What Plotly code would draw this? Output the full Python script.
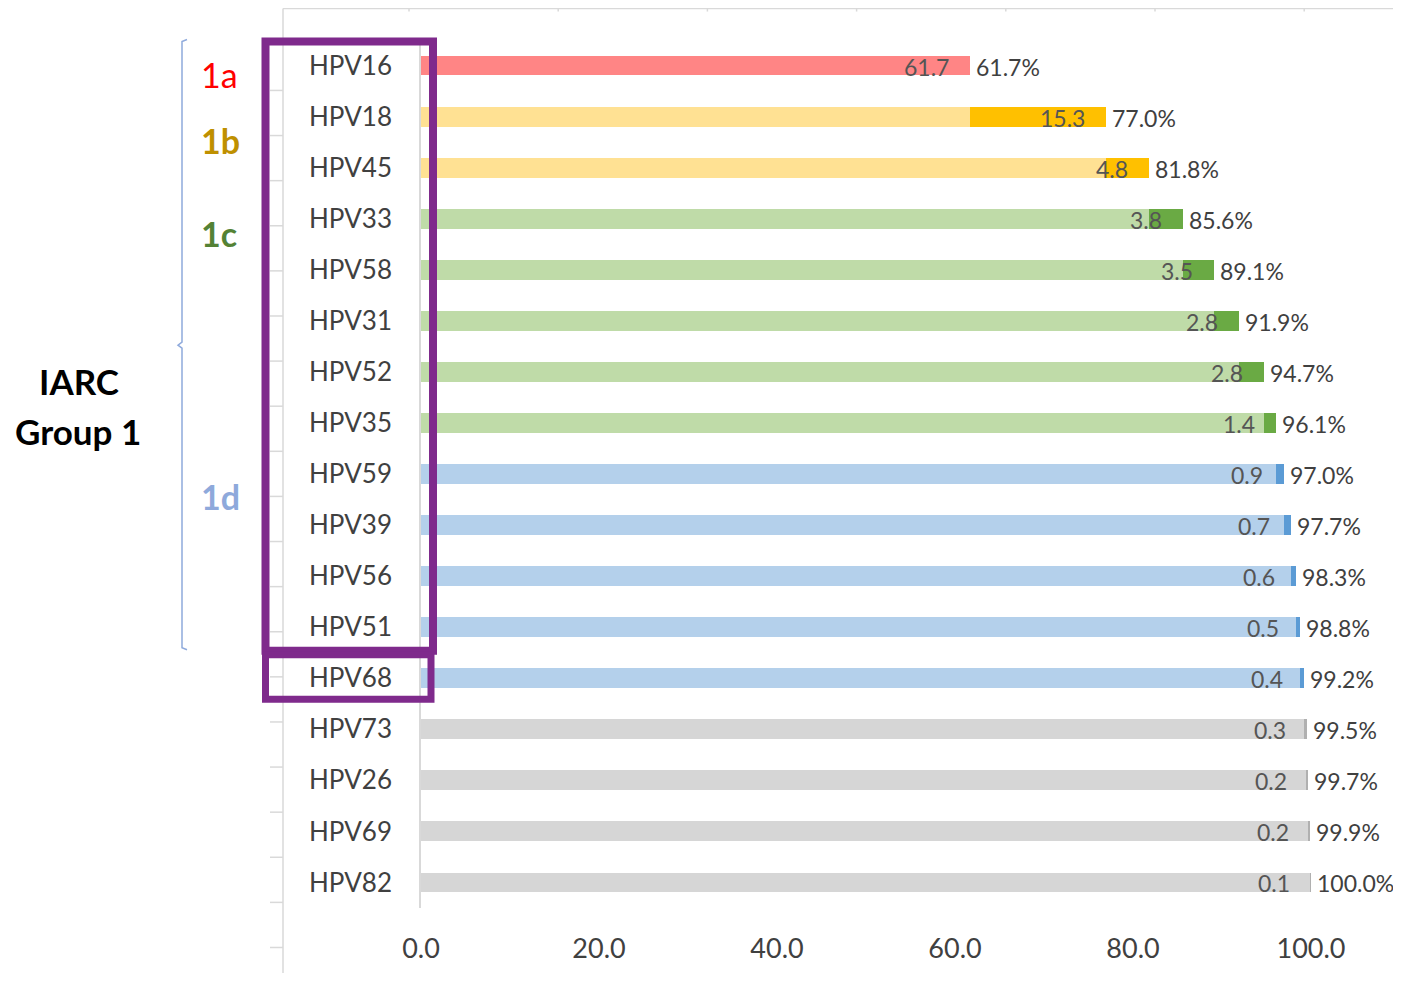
import plotly.graph_objects as go

# ---------------- data ----------------
categories = ["HPV16", "HPV18", "HPV45", "HPV33", "HPV58", "HPV31", "HPV52", "HPV35",
              "HPV59", "HPV39", "HPV56", "HPV51", "HPV68", "HPV73", "HPV26", "HPV69", "HPV82"]
increments = [61.7, 15.3, 4.8, 3.8, 3.5, 2.8, 2.8, 1.4, 0.9, 0.7, 0.6, 0.5, 0.4, 0.3, 0.2, 0.2, 0.1]
cumulative = [61.7, 77.0, 81.8, 85.6, 89.1, 91.9, 94.7, 96.1, 97.0, 97.7, 98.3, 98.8, 99.2,
              99.5, 99.7, 99.9, 100.0]
groups = ["1a", "1b", "1b", "1c", "1c", "1c", "1c", "1c", "1d", "1d", "1d", "1d", "1d",
          "other", "other", "other", "other"]
x_ticks = [0, 20, 40, 60, 80, 100]

# ---------------- styles ----------------
base_colors = {"1a": "#FF8585", "1b": "#FFE193", "1c": "#BFDBA8", "1d": "#B4D0EB", "other": "#D6D6D6"}
inc_colors = {"1a": "#FF8585", "1b": "#FFC000", "1c": "#6AAA44", "1d": "#5B9BD5", "other": "#B0B0B0"}
FONT = "Lato"
TXT = "#404040"

base_vals = [round(c - i, 1) for c, i in zip(cumulative, increments)]

fig = go.Figure()
fig.add_trace(go.Bar(
    y=categories, x=base_vals, orientation="h",
    marker=dict(color=[base_colors[g] for g in groups], line=dict(width=0)),
    showlegend=False, hoverinfo="skip"))
fig.add_trace(go.Bar(
    y=categories, x=increments, orientation="h",
    marker=dict(color=[inc_colors[g] for g in groups], line=dict(width=0)),
    showlegend=False, hoverinfo="skip"))

# data labels
for cat, inc, cum in zip(categories, increments, cumulative):
    fig.add_annotation(x=cum, y=cat, xref="x", yref="y", text=f"{inc:.1f}",
                       showarrow=False, xanchor="right", xshift=-19, yshift=-1,
                       font=dict(family=FONT, size=23, color="#555555"))
    fig.add_annotation(x=cum, y=cat, xref="x", yref="y", text=f"{cum:.1f}%",
                       showarrow=False, xanchor="left", xshift=4, yshift=-1,
                       font=dict(family=FONT, size=23, color=TXT))

# ---------------- layout geometry ----------------
OFF = 8               # page body margin added by the browser
W, H = 1401 - 2 * OFF, 981 - 2 * OFF
L, R = 421 - OFF, 1311 - OFF     # plot area in figure pixels
T, B = 39.5 - OFF, 908.5 - OFF


def px(xp):
    """screen pixel x -> paper"""
    return (xp - OFF - L) / (R - L)


def py(yp):
    """screen pixel y -> paper"""
    return (B - (yp - OFF)) / (B - T)


shapes = []
frame = "#D9D9D9"
# background frame (outer chart border)
shapes.append(dict(type="line", xref="paper", yref="paper", x0=px(283), x1=px(1401), y0=py(8), y1=py(8),
                   line=dict(color=frame, width=1.5), layer="below"))
shapes.append(dict(type="line", xref="paper", yref="paper", x0=px(283), x1=px(283), y0=py(8), y1=py(981),
                   line=dict(color=frame, width=1.5), layer="below"))
for k in range(7):
    xx = 409 + 149.2 * k
    shapes.append(dict(type="line", xref="paper", yref="paper", x0=px(xx), x1=px(xx), y0=py(8), y1=py(11),
                       line=dict(color=frame, width=1.5), layer="below"))
for k in range(20):
    yy = 90 + 45.16 * k
    shapes.append(dict(type="line", xref="paper", yref="paper", x0=px(270), x1=px(283), y0=py(yy), y1=py(yy),
                       line=dict(color=frame, width=1.5), layer="below"))

# bracket
bx = 182
path = (f"M {px(bx + 5)},{py(39)} L {px(bx)},{py(41)} L {px(bx)},{py(342)} L {px(bx - 4)},{py(345)} "
        f"L {px(bx)},{py(348)} L {px(bx)},{py(648)} L {px(bx + 5)},{py(650)}")
shapes.append(dict(type="path", xref="paper", yref="paper", path=path,
                   line=dict(color="#8FAADC", width=1.5)))

# purple boxes
purple = "#7F2A8C"
shapes.append(dict(type="rect", xref="paper", yref="paper", x0=px(265.5), x1=px(433), y0=py(41), y1=py(651),
                   line=dict(color=purple, width=8)))
shapes.append(dict(type="rect", xref="paper", yref="paper", x0=px(265.5), x1=px(431), y0=py(655), y1=py(699.5),
                   line=dict(color=purple, width=7)))

annotations_extra = [
    dict(text="1a", x=px(219), y=py(74), color="#FF0000", bold=False, size=34),
    dict(text="1b", x=px(220), y=py(140), color="#BF9000", bold=True, size=34),
    dict(text="1c", x=px(219), y=py(233), color="#548235", bold=True, size=34),
    dict(text="1d", x=px(220), y=py(497), color="#8EA9DB", bold=True, size=34),
    dict(text="IARC", x=px(79), y=py(381), color="#000000", bold=True, size=35),
    dict(text="Group 1", x=px(78), y=py(431), color="#000000", bold=True, size=35),
]
for a in annotations_extra:
    fig.add_annotation(xref="paper", yref="paper", x=a["x"], y=a["y"],
                       text=f"<b>{a['text']}</b>" if a["bold"] else a["text"],
                       showarrow=False, xanchor="center", yanchor="middle",
                       font=dict(family=FONT, size=a["size"], color=a["color"]))

fig.update_layout(
    width=W, height=H,
    margin=dict(l=L, r=W - R, t=T, b=H - B, pad=0, autoexpand=False),
    paper_bgcolor="white", plot_bgcolor="white",
    barmode="stack", bargap=0.61,
    shapes=shapes,
    showlegend=False,
    xaxis=dict(range=[0, 100], tickvals=x_ticks, tickformat=".1f", automargin=False,
               showgrid=False, zeroline=False, showline=False, ticks="",
               ticklabelstandoff=22,
               tickfont=dict(family=FONT, size=27, color=TXT)),
    yaxis=dict(categoryorder="array", categoryarray=categories, autorange="reversed",
               automargin=False,
               showgrid=False, zeroline=False, showline=True, linecolor="#D9D9D9", linewidth=1.5,
               ticks="", ticklabelstandoff=22,
               tickfont=dict(family=FONT, size=26, color=TXT)),
)

fig.write_html("out.html")
